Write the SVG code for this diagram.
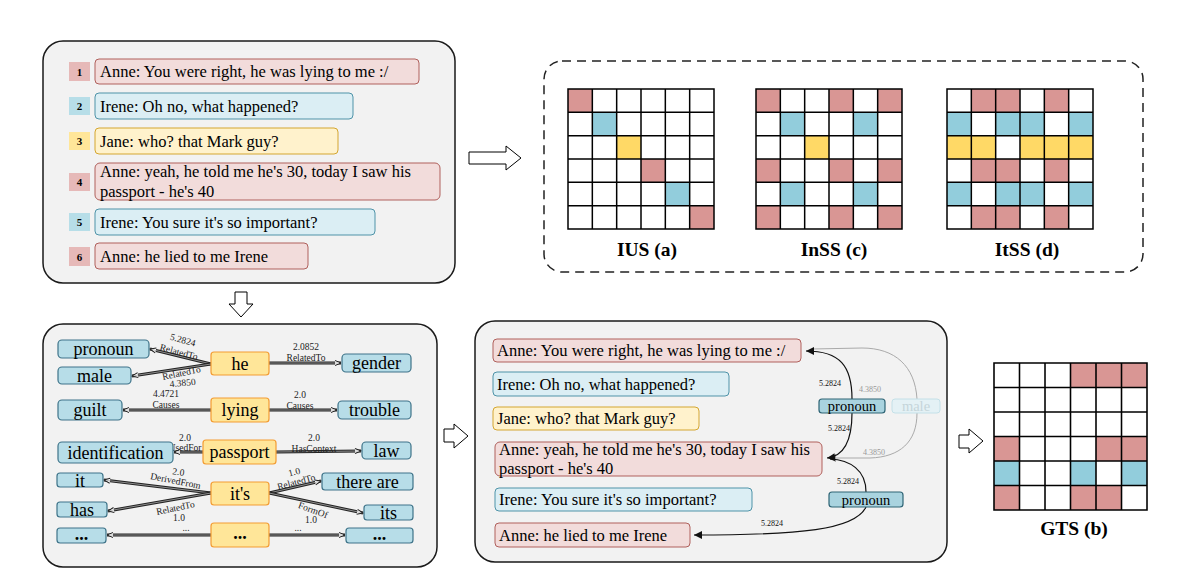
<svg xmlns="http://www.w3.org/2000/svg" width="1191" height="573" viewBox="0 0 1191 573">
<defs>
<style>
.panel{fill:#f2f2f2;stroke:#1a1a1a;stroke-width:1.5}
.txt{font-family:"Liberation Serif","Times New Roman",serif;font-size:16.5px;fill:#000}
.br{fill:#f2dcdb;stroke:#b0605c;stroke-width:1}
.bb{fill:#dbeef4;stroke:#4f93a8;stroke-width:1}
.by{fill:#fff2cc;stroke:#d4a630;stroke-width:1}
.nr{fill:#e6b9b8}.nb{fill:#b7dee8}.ny{fill:#ffe699}
.num{font-family:"Liberation Serif",serif;font-size:11px;font-weight:bold;text-anchor:middle}
.r{fill:#d99694}.b{fill:#92cddc}.y{fill:#ffd966}
.gl{fill:none;stroke:#000;stroke-width:1.5}
.cap{font-family:"Liberation Serif",serif;font-size:19.5px;font-weight:bold;text-anchor:middle}
.ha{fill:#fff;stroke:#000;stroke-width:1}
.kb{fill:#b7dde8;stroke:#3e7389;stroke-width:1.2}
.ko{fill:#ffe699;stroke:#f39c32;stroke-width:1.2}
.kt{font-family:"Liberation Serif",serif;font-size:18px;text-anchor:middle}
.el{font-family:"Liberation Serif",serif;font-size:9.5px;text-anchor:middle;fill:#222}
.eo{fill:none;stroke:#222;stroke-width:3}
.ei{fill:none;stroke:#aaa;stroke-width:0.8}
.cl{font-family:"Liberation Serif",serif;font-size:8px;text-anchor:middle;fill:#111}
.clg{font-family:"Liberation Serif",serif;font-size:8px;text-anchor:middle;fill:#999}
.pn{fill:#a9d3df;stroke:#2e6475;stroke-width:1.2}
.pt{font-family:"Liberation Serif",serif;font-size:14.5px;text-anchor:middle}
.cb{fill:none;stroke:#111;stroke-width:1.2}
.cg{fill:none;stroke:#aaa;stroke-width:1}
</style>
<marker id="oa" markerWidth="8" markerHeight="8" refX="7" refY="4" orient="auto" markerUnits="userSpaceOnUse"><path d="M1,1.5 L7,4 L1,6.5" fill="#fff" stroke="#222" stroke-width="1"/></marker>
<marker id="ba" markerWidth="10" markerHeight="10" refX="8" refY="4" orient="auto" markerUnits="userSpaceOnUse"><path d="M0,0 L8,4 L0,8 Z" fill="#111"/></marker>
<marker id="ga" markerWidth="10" markerHeight="10" refX="8" refY="4" orient="auto" markerUnits="userSpaceOnUse"><path d="M0,0 L8,4 L0,8 Z" fill="#999"/></marker>
<rect id="c" width="24.33" height="23.33"/>
<g id="grid">
<path class="gl" d="M0,0H146V140H0Z M24.33,0V140 M48.67,0V140 M73,0V140 M97.33,0V140 M121.67,0V140 M0,23.33H146 M0,46.67H146 M0,70H146 M0,93.33H146 M0,116.67H146"/>
</g>
</defs>
<rect width="1191" height="573" fill="#fff"/>

<!-- Top-left dialogue panel -->
<g id="dialogue">
<rect class="panel" x="43" y="41" width="412" height="242" rx="20"/>
<g id="u1"><rect class="nr" x="69" y="62" width="21" height="19"/><text class="num" x="79.5" y="75.5">1</text>
<rect class="br" x="95" y="59" width="324" height="25" rx="4"/><text class="txt" x="100" y="77">Anne: You were right, he was lying to me :/</text></g>
<g id="u2"><rect class="nb" x="69" y="97" width="21" height="18"/><text class="num" x="79.5" y="110">2</text>
<rect class="bb" x="95" y="93" width="258" height="26" rx="4"/><text class="txt" x="100" y="111.5">Irene: Oh no, what happened?</text></g>
<g id="u3"><rect class="ny" x="69" y="132" width="21" height="18"/><text class="num" x="79.5" y="145">3</text>
<rect class="by" x="95" y="128" width="243" height="26" rx="4"/><text class="txt" x="100" y="146.5">Jane: who? that Mark guy?</text></g>
<g id="u4"><rect class="nr" x="69" y="173" width="21" height="18"/><text class="num" x="79.5" y="186">4</text>
<rect class="br" x="95" y="163" width="345" height="37" rx="5"/><text class="txt" x="100" y="177">Anne: yeah, he told me he's 30, today I saw his</text><text class="txt" x="100" y="196.5">passport - he's 40</text></g>
<g id="u5"><rect class="nb" x="69" y="213" width="21" height="18"/><text class="num" x="79.5" y="226">5</text>
<rect class="bb" x="95" y="209" width="280" height="26" rx="4"/><text class="txt" x="100" y="227.5">Irene: You sure it's so important?</text></g>
<g id="u6"><rect class="nr" x="69" y="247" width="21" height="19"/><text class="num" x="79.5" y="260.5">6</text>
<rect class="br" x="95" y="243" width="213" height="26" rx="4"/><text class="txt" x="100" y="261.5">Anne: he lied to me Irene</text></g>
</g>

<!-- hollow arrows -->
<g id="arrows">
<polygon class="ha" points="469,152 506,152 506,146 521,158 506,170 506,164 469,164"/>
<polygon class="ha" points="235,292 247,292 247,304 253,304 241,317 229,304 235,304"/>
<polygon class="ha" points="444,429 454,429 454,424 468,436 454,448 454,442 444,442"/>
<polygon class="ha" points="959,435 969,435 969,429 983,441 969,453 969,448 959,448"/>
</g>

<!-- Top-right dashed panel with grids -->
<g id="structures">
<rect x="544" y="61" width="599" height="211" rx="18" fill="none" stroke="#222" stroke-width="1.5" stroke-dasharray="9,6"/>
<g id="ius" transform="translate(568,89)">
<rect width="146" height="140" fill="#fff"/>
<use href="#c" class="r" x="0" y="0"/>
<use href="#c" class="b" x="24.33" y="23.33"/>
<use href="#c" class="y" x="48.67" y="46.67"/>
<use href="#c" class="r" x="73" y="70"/>
<use href="#c" class="b" x="97.33" y="93.33"/>
<use href="#c" class="r" x="121.67" y="116.67"/>
<use href="#grid"/>
</g>
<text class="cap" x="647" y="256">IUS (a)</text>
<g id="inss" transform="translate(756,89)">
<rect width="146" height="140" fill="#fff"/>
<use href="#c" class="r" x="0" y="0"/><use href="#c" class="r" x="73" y="0"/><use href="#c" class="r" x="121.67" y="0"/>
<use href="#c" class="b" x="24.33" y="23.33"/><use href="#c" class="b" x="97.33" y="23.33"/>
<use href="#c" class="y" x="48.67" y="46.67"/>
<use href="#c" class="r" x="0" y="70"/><use href="#c" class="r" x="73" y="70"/><use href="#c" class="r" x="121.67" y="70"/>
<use href="#c" class="b" x="24.33" y="93.33"/><use href="#c" class="b" x="97.33" y="93.33"/>
<use href="#c" class="r" x="0" y="116.67"/><use href="#c" class="r" x="73" y="116.67"/><use href="#c" class="r" x="121.67" y="116.67"/>
<use href="#grid"/>
</g>
<text class="cap" x="834" y="256">InSS (c)</text>
<g id="itss" transform="translate(947,89)">
<rect width="146" height="140" fill="#fff"/>
<use href="#c" class="r" x="24.33" y="0"/><use href="#c" class="r" x="48.67" y="0"/><use href="#c" class="r" x="97.33" y="0"/>
<use href="#c" class="b" x="0" y="23.33"/><use href="#c" class="b" x="48.67" y="23.33"/><use href="#c" class="b" x="73" y="23.33"/><use href="#c" class="b" x="121.67" y="23.33"/>
<use href="#c" class="y" x="0" y="46.67"/><use href="#c" class="y" x="24.33" y="46.67"/><use href="#c" class="y" x="73" y="46.67"/><use href="#c" class="y" x="97.33" y="46.67"/><use href="#c" class="y" x="121.67" y="46.67"/>
<use href="#c" class="r" x="24.33" y="70"/><use href="#c" class="r" x="48.67" y="70"/><use href="#c" class="r" x="97.33" y="70"/>
<use href="#c" class="b" x="0" y="93.33"/><use href="#c" class="b" x="48.67" y="93.33"/><use href="#c" class="b" x="73" y="93.33"/><use href="#c" class="b" x="121.67" y="93.33"/>
<use href="#c" class="r" x="24.33" y="116.67"/><use href="#c" class="r" x="48.67" y="116.67"/><use href="#c" class="r" x="97.33" y="116.67"/>
<use href="#grid"/>
</g>
<text class="cap" x="1027" y="256">ItSS (d)</text>
</g>

<!-- Bottom-left knowledge graph panel -->
<g id="knowledge">
<rect class="panel" x="43" y="324" width="394" height="243" rx="20"/>
<g id="kg-edges">
<path class="eo" marker-end="url(#oa)" d="M211,364 L150,349"/><path class="ei" d="M211,364 L152,349.5"/>
<path class="eo" marker-end="url(#oa)" d="M211,364 L132,376"/><path class="ei" d="M211,364 L134,375.7"/>
<path class="eo" marker-end="url(#oa)" d="M269,363 L341,363"/><path class="ei" d="M269,363 L339,363"/>
<path class="eo" marker-end="url(#oa)" d="M211,410 L123,410"/><path class="ei" d="M211,410 L125,410"/>
<path class="eo" marker-end="url(#oa)" d="M269,410 L337,410"/><path class="ei" d="M269,410 L335,410"/>
<path class="eo" marker-end="url(#oa)" d="M203,452 L174,452"/><path class="ei" d="M203,452 L176,452"/>
<path class="eo" marker-end="url(#oa)" d="M276,452 L361,451"/><path class="ei" d="M276,452 L359,451"/>
<path class="eo" marker-end="url(#oa)" d="M211,493 L104,480"/><path class="ei" d="M211,493 L106,480.3"/>
<path class="eo" marker-end="url(#oa)" d="M211,493 L108,511"/><path class="ei" d="M211,493 L110,510.6"/>
<path class="eo" marker-end="url(#oa)" d="M269,493 L321,481"/><path class="ei" d="M269,493 L319,481.5"/>
<path class="eo" marker-end="url(#oa)" d="M269,493 L363,513"/><path class="ei" d="M269,493 L361,512.6"/>
<path class="eo" marker-end="url(#oa)" d="M211,535 L107,535"/><path class="ei" d="M211,535 L109,535"/>
<path class="eo" marker-end="url(#oa)" d="M269,535 L345,535"/><path class="ei" d="M269,535 L343,535"/>
<text class="el" transform="translate(182,343) rotate(15)">5.2824</text>
<text class="el" transform="translate(178,355) rotate(15)">RelatedTo</text>
<text class="el" transform="translate(182,376) rotate(-12)">RelatedTo</text>
<text class="el" transform="translate(183,386) rotate(-6)">4.3850</text>
<text class="el" x="306" y="350">2.0852</text>
<text class="el" x="306" y="361">RelatedTo</text>
<text class="el" x="166" y="397">4.4721</text>
<text class="el" x="166" y="408">Causes</text>
<text class="el" x="300" y="398">2.0</text>
<text class="el" x="300" y="409">Causes</text>
<text class="el" x="185" y="441">2.0</text>
<text class="el" x="185" y="451">UsedFor</text>
<text class="el" x="314" y="441">2.0</text>
<text class="el" x="314" y="452">HasContext</text>
<text class="el" transform="translate(178,475) rotate(8)">2.0</text>
<text class="el" transform="translate(175,484) rotate(11)">DerivedFrom</text>
<text class="el" transform="translate(176,511) rotate(-12)">RelatedTo</text>
<text class="el" x="179" y="521">1.0</text>
<text class="el" transform="translate(295,475) rotate(-15)">1.0</text>
<text class="el" transform="translate(297,485) rotate(-15)">RelatedTo</text>
<text class="el" transform="translate(312,513) rotate(20)">FormOf</text>
<text class="el" x="311" y="523">1.0</text>
<text class="el" x="186" y="531">...</text>
<text class="el" x="298" y="531">...</text>
</g>
<g id="n-pronoun"><rect class="kb" x="58" y="340" width="91" height="18" rx="4"/><text class="kt" x="103.5" y="355">pronoun</text></g>
<g id="n-male"><rect class="kb" x="58" y="367" width="73" height="17" rx="4"/><text class="kt" x="94.5" y="381.5">male</text></g>
<g id="n-he"><rect class="ko" x="211" y="352" width="58" height="23" rx="3"/><text class="kt" x="240" y="369.5">he</text></g>
<g id="n-gender"><rect class="kb" x="342" y="354" width="69" height="18" rx="4"/><text class="kt" x="376.5" y="369">gender</text></g>
<g id="n-guilt"><rect class="kb" x="58" y="400" width="64" height="20" rx="4"/><text class="kt" x="90" y="416">guilt</text></g>
<g id="n-lying"><rect class="ko" x="211" y="398" width="58" height="24" rx="3"/><text class="kt" x="240" y="415.5">lying</text></g>
<g id="n-trouble"><rect class="kb" x="338" y="401" width="73" height="18" rx="4"/><text class="kt" x="374.5" y="416">trouble</text></g>
<g id="n-identification"><rect class="kb" x="58" y="442" width="115" height="21" rx="4"/><text class="kt" x="115.5" y="458.5">identification</text></g>
<g id="n-passport"><rect class="ko" x="203" y="440" width="73" height="24" rx="3"/><text class="kt" x="239.5" y="457.5">passport</text></g>
<g id="n-law"><rect class="kb" x="362" y="442" width="49" height="17" rx="4"/><text class="kt" x="386.5" y="456.5">law</text></g>
<g id="n-it"><rect class="kb" x="57" y="473" width="46" height="14" rx="3"/><text class="kt" x="80" y="486.5">it</text></g>
<g id="n-has"><rect class="kb" x="57" y="502" width="50" height="15" rx="3"/><text class="kt" x="82" y="516">has</text></g>
<g id="n-its-c"><rect class="ko" x="211" y="482" width="58" height="23" rx="3"/><text class="kt" x="240" y="499.5">it's</text></g>
<g id="n-thereare"><rect class="kb" x="322" y="473" width="91" height="17" rx="3"/><text class="kt" x="367.5" y="487.5">there are</text></g>
<g id="n-its"><rect class="kb" x="364" y="505" width="49" height="15" rx="3"/><text class="kt" x="388.5" y="519">its</text></g>
<g id="n-dots-l"><rect class="kb" x="57" y="528" width="49" height="15" rx="3"/><text class="kt" x="81.5" y="540" font-weight="bold">...</text></g>
<g id="n-dots-c"><rect class="ko" x="211" y="523" width="58" height="24" rx="3"/><text class="kt" x="240" y="539" font-weight="bold">...</text></g>
<g id="n-dots-r"><rect class="kb" x="346" y="528" width="67" height="15" rx="3"/><text class="kt" x="379.5" y="540" font-weight="bold">...</text></g>
</g>

<!-- Bottom-middle panel -->
<g id="linked">
<rect class="panel" x="475" y="321" width="472" height="241" rx="20"/>
<g id="m1"><rect class="br" x="493" y="339" width="308" height="23" rx="4"/><text class="txt" x="497" y="356">Anne: You were right, he was lying to me :/</text></g>
<g id="m2"><rect class="bb" x="493" y="372" width="236" height="24" rx="4"/><text class="txt" x="497" y="389.5">Irene: Oh no, what happened?</text></g>
<g id="m3"><rect class="by" x="493" y="407" width="206" height="23" rx="4"/><text class="txt" x="497" y="424">Jane: who? that Mark guy?</text></g>
<g id="m4"><rect class="br" x="495" y="442" width="327" height="34" rx="5"/><text class="txt" x="499" y="454.5">Anne: yeah, he told me he's 30, today I saw his</text><text class="txt" x="499" y="473.5">passport - he's 40</text></g>
<g id="m5"><rect class="bb" x="495" y="488" width="257" height="23" rx="4"/><text class="txt" x="499" y="505">Irene: You sure it's so important?</text></g>
<g id="m6"><rect class="br" x="495" y="523" width="195" height="24" rx="4"/><text class="txt" x="499" y="540.5">Anne: he lied to me Irene</text></g>
<g id="m-links">
<path class="cg" d="M917,399 C915,366 895,348 862,348 L812,349"/>
<path class="cg" marker-end="url(#ga)" d="M917,413 C917,442 900,457 870,458 L828,458"/>
<path class="cb" marker-end="url(#ba)" d="M852,399 C852,366 840,351 806,351"/>
<path class="cb" marker-end="url(#ba)" d="M852,413 C852,440 845,456 827,458"/>
<path class="cb" d="M866,492 C866,470 850,460 830,459"/>
<path class="cb" marker-end="url(#ba)" d="M866,507 C855,530 800,535 694,535"/>
<text class="cl" x="830" y="386">5.2824</text>
<text class="clg" x="870" y="392">4.3850</text>
<text class="cl" x="839" y="431">5.2824</text>
<text class="clg" x="874" y="455">4.3850</text>
<text class="cl" x="848" y="484">5.2824</text>
<text class="cl" x="772" y="526">5.2824</text>
</g>
<g id="m-pronoun1"><rect class="pn" x="819" y="399" width="66" height="14" rx="3"/><text class="pt" x="852" y="411">pronoun</text></g>
<g id="m-male"><rect x="892" y="399" width="48" height="14" rx="3" fill="#e4f1f5" stroke="#c4e0e8"/><text class="pt" x="916" y="411" fill="#c5d5da">male</text></g>
<g id="m-pronoun2"><rect class="pn" x="829" y="492" width="74" height="15" rx="3"/><text class="pt" x="866" y="504.5">pronoun</text></g>
</g>

<!-- GTS grid -->
<g id="gts">
<g transform="translate(994,363) scale(1.048,1.05)">
<rect width="146" height="140" fill="#fff"/>
<use href="#c" class="r" x="73" y="0"/><use href="#c" class="r" x="97.33" y="0"/><use href="#c" class="r" x="121.67" y="0"/>
<use href="#c" class="r" x="0" y="70"/><use href="#c" class="r" x="97.33" y="70"/><use href="#c" class="r" x="121.67" y="70"/>
<use href="#c" class="b" x="0" y="93.33"/><use href="#c" class="b" x="73" y="93.33"/><use href="#c" class="b" x="121.67" y="93.33"/>
<use href="#c" class="r" x="0" y="116.67"/><use href="#c" class="r" x="73" y="116.67"/><use href="#c" class="r" x="97.33" y="116.67"/>
<use href="#grid"/>
</g>
<text class="cap" x="1074" y="535">GTS (b)</text>
</g>
</svg>
